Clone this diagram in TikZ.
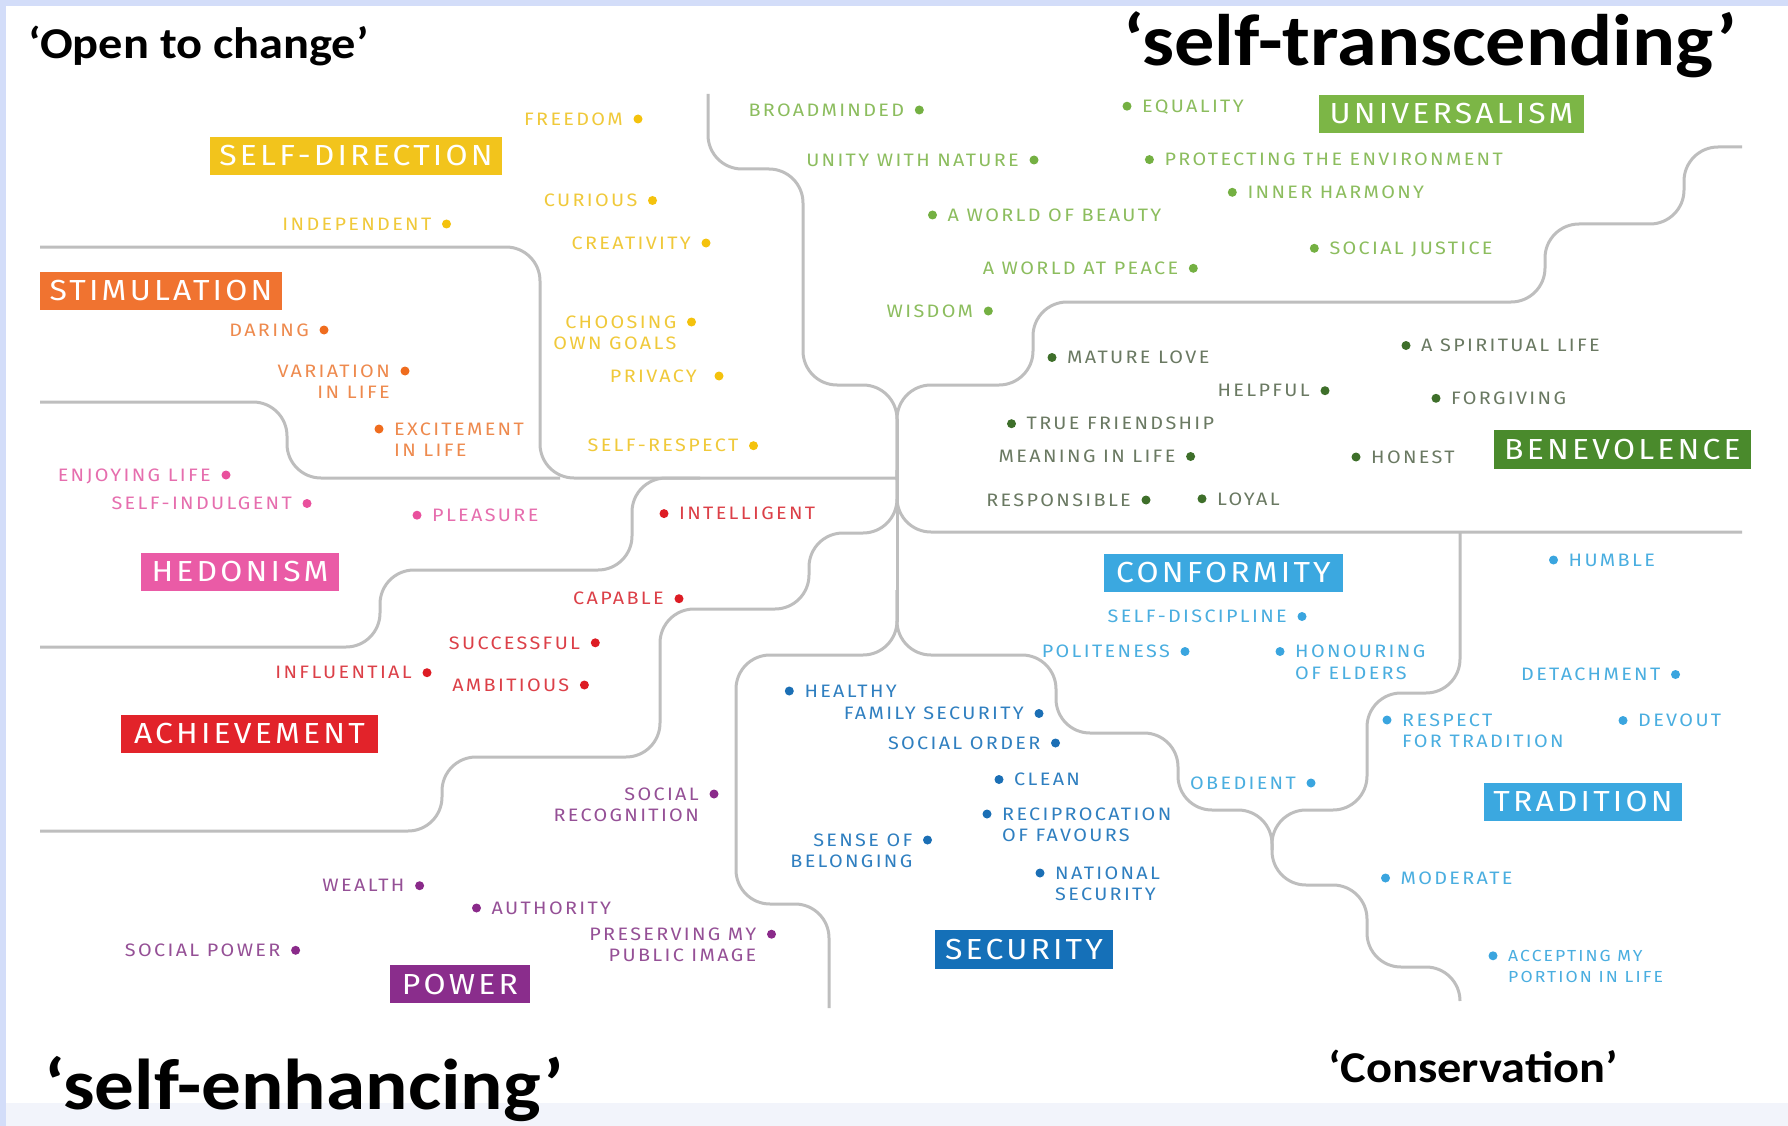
\documentclass[tikz,border=0pt]{standalone}
\usepackage{fontspec}
\newfontfamily\headfont[FakeStretch=1.1]{Carlito}
\newfontfamily\valfont[FakeStretch=1.1,LetterSpace=13]{Fira Sans}
\newfontfamily\boxfont[FakeStretch=1.1,LetterSpace=11]{Fira Sans}

% value groups: d = bullet, t = lettering, box = heading box
\definecolor{sdd}{HTML}{F4C20D}\definecolor{sdt}{HTML}{F0C93A}\definecolor{sdbox}{HTML}{F2C41C}
\definecolor{std}{HTML}{EF6C1E}\definecolor{stt}{HTML}{EE8A4E}\definecolor{stbox}{HTML}{F07330}
\definecolor{hed}{HTML}{E9509D}\definecolor{het}{HTML}{E66EAE}\definecolor{hebox}{HTML}{EA5BA6}
\definecolor{acd}{HTML}{DD1C24}\definecolor{act}{HTML}{DC4048}\definecolor{acbox}{HTML}{E2232A}
\definecolor{pod}{HTML}{8A2A8A}\definecolor{pot}{HTML}{955096}\definecolor{pobox}{HTML}{8A2D8C}
\definecolor{sed}{HTML}{1B6FB5}\definecolor{set}{HTML}{2F7FC0}\definecolor{sebox}{HTML}{1570B8}
\definecolor{cod}{HTML}{3AA5DF}\definecolor{cot}{HTML}{4AAEE0}\definecolor{cobox}{HTML}{3BA8E0}
\definecolor{und}{HTML}{74B042}\definecolor{unt}{HTML}{8CBD5E}\definecolor{unbox}{HTML}{7CB646}
\definecolor{bed}{HTML}{3E6F2A}\definecolor{bet}{HTML}{6A7962}\definecolor{bebox}{HTML}{4A8A2C}
\definecolor{linegrey}{HTML}{BEBEBE}
\definecolor{bandblue}{HTML}{D3DDF9}
\definecolor{bandpale}{HTML}{F2F4FB}

\tikzset{
  link/.style={draw=linegrey, line width=3pt, rounded corners=34pt},
  cat/.style={inner sep=0pt, text=white, font=\boxfont\fontsize{29}{29}\selectfont},
  val/.style={inner sep=0pt, font=\valfont\fontsize{18}{18}\selectfont, text height=12.5pt, text depth=0pt},
  small/.style={font=\valfont\fontsize{16}{16}\selectfont, text height=11pt},
  bullet/.style={circle, inner sep=0pt, minimum size=9pt},
  head/.style={inner sep=0pt, text=black},
}

% heading box: name, x1, y1, x2, y2, colour, text
\newcommand\catbox[7]{\node[cat, fill=#6, minimum width={#4-#2}, minimum height={#5-#3}] (#1) at ({(#2+#4)/2},{(#3+#5)/2}) {#7};}
% value with its bullet on the right: [extra], name, x, y, group, text
\newcommand\vr[6][]{\node[bullet, fill=#5d] (#2d) at (#3,#4) {};
  \node[val, text=#5t, anchor=east, #1] (#2) at ({#3-15},#4) {#6};}
% value with its bullet on the left
\newcommand\vl[6][]{\node[bullet, fill=#5d] (#2d) at (#3,#4) {};
  \node[val, text=#5t, anchor=west, #1] (#2) at ({#3+15},#4) {#6};}
% second lines, right or left aligned under the first
\newcommand\vrii[4][]{\node[val, text=#3t, anchor=east, #1] (#2b) at ([yshift=-21.5pt]#2.east) {#4};}
\newcommand\vlii[4][]{\node[val, text=#3t, anchor=west, #1] (#2b) at ([yshift=-21.5pt]#2.west) {#4};}

\begin{document}
\begin{tikzpicture}[x=1pt, y=-1pt]
\useasboundingbox (0,0) rectangle (1788,1126);
\fill[white] (0,0) rectangle (1788,1126);
\fill[bandpale] (0,1103) rectangle (1788,1126);
\fill[bandblue] (0,0) rectangle (1788,6);
\fill[bandblue] (0,0) rectangle (6,1126);

% ---- dividing lines ----
\draw[link] (897,419) -- (897,622);
\draw[link] (708,94) -- (708,169) -- (803,169) -- (803,385) -- (897,385) -- (897,480);
\draw[link] (1742,147) -- (1684,147) -- (1684,224) -- (1545,224) -- (1545,302) -- (1033,302) -- (1033,385) -- (897,385) -- (897,480);
\draw[link] (40,247) -- (540,247) -- (540,478) -- (897,478);
\draw[link] (40,402) -- (287,402) -- (287,478) -- (560,478);
\draw[link] (40,647) -- (380,647) -- (380,570) -- (632,570) -- (632,478) -- (700,478);
\draw[link] (897,470) -- (897,533) -- (809,533) -- (809,609) -- (660,609) -- (660,757) -- (442,757) -- (442,831) -- (40,831);
\draw[link] (897,470) -- (897,532) -- (1742,532);
\draw[link] (1460,532) -- (1460,693) -- (1367,693) -- (1367,810) -- (1272,810) -- (1272,885) -- (1367,885) -- (1367,967) -- (1460,967) -- (1460,1001);
\draw[link] (897,590) -- (897,655) -- (1056,655) -- (1056,733) -- (1178,733) -- (1178,810) -- (1272,810) -- (1272,850);
\draw[link] (897,590) -- (897,655) -- (736,655) -- (736,904) -- (829,904) -- (829,1008);

% ---- value types ----
\catbox{selfdirection}{210}{137}{502}{175}{sdbox}{SELF-DIRECTION}
\catbox{stimulation}{40}{272}{282}{310}{stbox}{STIMULATION}
\catbox{hedonism}{141}{553}{339}{591}{hebox}{HEDONISM}
\catbox{achievement}{121}{715}{378}{753}{acbox}{ACHIEVEMENT}
\catbox{power}{390}{965}{530}{1003}{pobox}{POWER}
\catbox{security}{935}{930}{1113}{969}{sebox}{SECURITY}
\catbox{conformity}{1104}{554}{1343}{592}{cobox}{CONFORMITY}
\catbox{tradition}{1484}{783}{1682}{821}{cobox}{TRADITION}
\catbox{benevolence}{1494}{430}{1751}{469}{bebox}{BENEVOLENCE}
\catbox{universalism}{1319}{95}{1584}{133}{unbox}{UNIVERSALISM}

% ---- self-direction ----
\vr{freedom}{638}{119}{sd}{FREEDOM}
\vr{curious}{652.5}{200.5}{sd}{CURIOUS}
\vr{independent}{446.5}{224}{sd}{INDEPENDENT}
\vr{creativity}{706}{243}{sd}{CREATIVITY}
\vr{choosing}{691.5}{322}{sd}{CHOOSING}
\vrii{choosing}{sd}{OWN GOALS}
\vr[xshift=-7pt]{privacy}{719}{376}{sd}{PRIVACY}
\vr{selfrespect}{753.5}{445.7}{sd}{SELF-RESPECT}

% ---- stimulation ----
\vr{daring}{324}{330}{st}{DARING}
\vr{variation}{405}{371}{st}{VARIATION}
\vrii{variation}{st}{IN LIFE}
\vl{excitement}{379}{429}{st}{EXCITEMENT}
\vlii{excitement}{st}{IN LIFE}

% ---- hedonism ----
\vr{enjoying}{226}{475}{he}{ENJOYING LIFE}
\vr{indulgent}{307}{503.5}{he}{SELF-INDULGENT}
\vl{pleasure}{417}{515.2}{he}{PLEASURE}

% ---- achievement ----
\vl{intelligent}{664}{513.6}{ac}{INTELLIGENT}
\vr{capable}{679}{598.7}{ac}{CAPABLE}
\vr{successful}{595.3}{642.8}{ac}{SUCCESSFUL}
\vr{influential}{427}{672.7}{ac}{INFLUENTIAL}
\vr{ambitious}{584.4}{685}{ac}{AMBITIOUS}

% ---- power ----
\vr{recognition}{714}{794}{po}{SOCIAL}
\vrii{recognition}{po}{RECOGNITION}
\vr{wealth}{419.6}{885.7}{po}{WEALTH}
\vl{authority}{476.5}{908}{po}{AUTHORITY}
\vr{image}{771.5}{934.2}{po}{PRESERVING MY}
\vrii{image}{po}{PUBLIC IMAGE}
\vr{socialpower}{295.6}{950.3}{po}{SOCIAL POWER}

% ---- security ----
\vl{healthy}{789.3}{691}{se}{HEALTHY}
\vr{family}{1039}{713.5}{se}{FAMILY SECURITY}
\vr{order}{1055.5}{743}{se}{SOCIAL ORDER}
\vl{clean}{999}{779.5}{se}{CLEAN}
\vl{reciprocation}{987}{814}{se}{RECIPROCATION}
\vlii{reciprocation}{se}{OF FAVOURS}
\vr{belonging}{927.5}{840}{se}{SENSE OF}
\vrii{belonging}{se}{BELONGING}
\vl{national}{1040}{873}{se}{NATIONAL}
\vlii{national}{se}{SECURITY}

% ---- conformity ----
\vr{discipline}{1302}{616.5}{co}{SELF-DISCIPLINE}
\vr{politeness}{1185}{651.5}{co}{POLITENESS}
\vl{honouring}{1280}{651.5}{co}{HONOURING}
\vlii{honouring}{co}{OF ELDERS}
\vr{obedient}{1311}{783}{co}{OBEDIENT}

% ---- tradition ----
\vl{humble}{1553.5}{560}{co}{HUMBLE}
\vr{detachment}{1675.5}{674.5}{co}{DETACHMENT}
\vl{respect}{1387}{720}{co}{RESPECT}
\vlii{respect}{co}{FOR TRADITION}
\vl{devout}{1623}{720.5}{co}{DEVOUT}
\vl{moderate}{1385.5}{878}{co}{MODERATE}
\vl[small]{accepting}{1493}{955.8}{co}{ACCEPTING MY}
\vlii[small]{accepting}{co}{PORTION IN LIFE}

% ---- universalism ----
\vr{broadminded}{919.3}{110}{un}{BROADMINDED}
\vr{unity}{1034}{160}{un}{UNITY WITH NATURE}
\vl{beauty}{932.5}{215}{un}{A WORLD OF BEAUTY}
\vr{peace}{1193.3}{268.3}{un}{A WORLD AT PEACE}
\vr{wisdom}{988.3}{311}{un}{WISDOM}
\vl{equality}{1127}{106.2}{un}{EQUALITY}
\vl{protecting}{1149.4}{159.6}{un}{PROTECTING THE ENVIRONMENT}
\vl{harmony}{1232.3}{192.3}{un}{INNER HARMONY}
\vl{justice}{1314.3}{248.3}{un}{SOCIAL JUSTICE}

% ---- benevolence ----
\vl{mature}{1052}{357.5}{be}{MATURE LOVE}
\vr{helpful}{1325}{390.7}{be}{HELPFUL}
\vl{friendship}{1011.5}{423.7}{be}{TRUE FRIENDSHIP}
\vr{meaning}{1190.6}{456.5}{be}{MEANING IN LIFE}
\vr{responsible}{1146}{500}{be}{RESPONSIBLE}
\vl{loyal}{1202}{498.8}{be}{LOYAL}
\vl{spiritual}{1406}{345.5}{be}{A SPIRITUAL LIFE}
\vl{forgiving}{1436}{398.3}{be}{FORGIVING}
\vl{honest}{1356}{457}{be}{HONEST}

% ---- the four orientations ----
\node[head, anchor=base west, font=\headfont\bfseries\fontsize{44}{44}\selectfont] (open) at (28,59) {‘Open to change’};
\node[head, anchor=base east, font=\headfont\bfseries\fontsize{73}{73}\selectfont] (transcend) at (1737,66) {‘self-transcending’};
\node[head, anchor=base west, font=\headfont\bfseries\fontsize{72}{72}\selectfont] (enhance) at (44,1109) {‘self-enhancing’};
\node[head, anchor=base west, font=\headfont\bfseries\fontsize{44}{44}\selectfont] (conserve) at (1328,1082) {‘Conservation’};
\end{tikzpicture}
\end{document}
